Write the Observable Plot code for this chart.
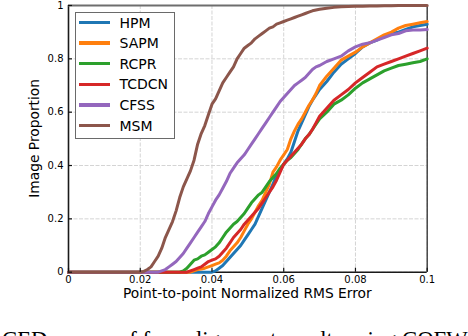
<!DOCTYPE html>
<html><head><meta charset="utf-8">
<script src="https://cdn.jsdelivr.net/npm/d3@7"></script>
<script src="https://cdn.jsdelivr.net/npm/@observablehq/plot@0.6"></script>
<style>
html,body{margin:0;padding:0;background:#fff;overflow:hidden;width:468px;height:336px}
#wrap{position:relative;width:468px;height:336px;overflow:hidden}
#legend{position:absolute;left:75px;top:12px;width:100px;height:127px;box-sizing:border-box;border:1.5px solid #6a6a6a;background:#fff;font-family:"DejaVu Sans";font-size:14px}
.sw{position:absolute;left:2.5px;width:31px;height:3.5px}
.lb{position:absolute;left:43.5px;line-height:16px;color:#000;white-space:nowrap}
#caption{position:absolute;left:2px;top:327.8px;font-family:"Liberation Serif";font-size:22.7px;line-height:23px;white-space:nowrap;color:#000}
</style></head>
<body><div id="wrap"></div>
<script>
const seriesNames = ["HPM", "SAPM", "RCPR", "TCDCN", "CFSS", "MSM"];
const seriesColors = ["#1f77b4", "#ff7f0e", "#2ca02c", "#d62728", "#9467bd", "#8c564b"];
const xGrid = [0,
  0.020,0.021,0.022,0.023,0.024,0.025,0.026,0.027,0.028,0.029,
  0.030,0.031,0.032,0.033,0.034,0.035,0.036,0.037,0.038,0.039,
  0.040,0.041,0.042,0.043,0.044,0.045,0.046,0.047,0.048,0.049,
  0.050,0.051,0.052,0.053,0.054,0.055,0.056,0.057,0.058,0.059,
  0.060,0.061,0.062,0.063,0.064,0.065,0.066,0.067,0.068,0.069,
  0.070,
  0.072,0.074,0.076,0.078,0.080,0.082,0.084,0.086,0.088,0.090,0.092,0.094,0.096,0.098,0.100];
const hpm = [0,
  0,0,0,0,0,0,0,0,0,0,
  0,0,0,0,0,0,0,0,0,0,
  0,0.005,0.015,0.025,0.04,0.055,0.07,0.085,0.10,0.12,
  0.14,0.16,0.18,0.21,0.24,0.27,0.30,0.33,0.365,0.385,
  0.405,0.425,0.45,0.49,0.53,0.56,0.59,0.62,0.645,0.665,
  0.685,
  0.715,0.75,0.78,0.80,0.82,0.845,0.86,0.87,0.885,0.895,0.90,0.91,0.92,0.925,0.93];
const sapm = [0,
  0,0,0,0,0,0,0,0,0,0,
  0,0,0,0,0,0.005,0.01,0.012,0.015,0.02,
  0.025,0.03,0.035,0.045,0.06,0.08,0.095,0.11,0.13,0.155,
  0.18,0.20,0.225,0.25,0.27,0.30,0.33,0.375,0.395,0.42,
  0.44,0.46,0.50,0.53,0.555,0.575,0.60,0.625,0.645,0.67,
  0.70,
  0.735,0.765,0.795,0.81,0.825,0.845,0.86,0.875,0.89,0.90,0.915,0.925,0.93,0.935,0.94];
const rcpr = [0,
  0,0,0,0,0,0,0,0,0,0,
  0,0,0.005,0.015,0.03,0.045,0.05,0.06,0.065,0.075,
  0.085,0.095,0.11,0.13,0.15,0.165,0.18,0.19,0.205,0.22,
  0.24,0.26,0.275,0.29,0.30,0.32,0.34,0.355,0.37,0.39,
  0.405,0.42,0.43,0.445,0.46,0.48,0.50,0.515,0.535,0.555,
  0.575,
  0.60,0.63,0.645,0.665,0.69,0.71,0.725,0.74,0.755,0.765,0.775,0.78,0.785,0.79,0.80];
const tcdcn = [0,
  0,0,0,0,0,0,0,0,0,0,
  0,0,0,0,0.005,0.01,0.015,0.02,0.03,0.04,
  0.045,0.05,0.06,0.075,0.09,0.11,0.13,0.145,0.16,0.18,
  0.195,0.21,0.225,0.24,0.26,0.28,0.30,0.32,0.345,0.375,
  0.405,0.42,0.435,0.45,0.465,0.48,0.50,0.515,0.535,0.56,
  0.585,
  0.615,0.645,0.665,0.685,0.71,0.73,0.75,0.77,0.78,0.79,0.80,0.81,0.82,0.83,0.84];
const cfss = [0,
  0,0,0,0,0,0,0.005,0.01,0.02,0.03,
  0.04,0.055,0.07,0.09,0.11,0.13,0.15,0.17,0.19,0.22,
  0.245,0.27,0.29,0.315,0.34,0.37,0.39,0.41,0.425,0.44,
  0.46,0.48,0.50,0.52,0.54,0.56,0.58,0.60,0.62,0.64,
  0.655,0.67,0.685,0.70,0.71,0.72,0.73,0.745,0.76,0.77,
  0.775,
  0.79,0.80,0.81,0.83,0.845,0.855,0.86,0.87,0.88,0.89,0.895,0.905,0.908,0.908,0.91];
const msm = [0,
  0,0.003,0.01,0.02,0.04,0.06,0.09,0.13,0.16,0.19,
  0.23,0.28,0.32,0.35,0.38,0.42,0.48,0.52,0.55,0.59,
  0.63,0.65,0.68,0.71,0.73,0.75,0.77,0.80,0.82,0.84,
  0.85,0.86,0.875,0.885,0.895,0.905,0.915,0.92,0.93,0.935,
  0.94,0.945,0.95,0.955,0.96,0.965,0.97,0.975,0.98,0.983,
  0.986,
  0.99,0.993,0.995,0.996,0.997,0.997,0.998,0.998,0.999,0.999,1,1,1,1,1];
const xTicks = [0, 0.02, 0.04, 0.06, 0.08, 0.1];
const yTicks = [0, 0.2, 0.4, 0.6, 0.8, 1];
const xLabel = "Point-to-point Normalized RMS Error";
const yLabel = "Image Proportion";
const captionText = "CED curves of face alignment results using COFW";

const seriesValues = [hpm, sapm, rcpr, tcdcn, cfss, msm];
const rows = [];
seriesNames.forEach((name, k) => {
  xGrid.forEach((x, i) => rows.push({x, y: seriesValues[k][i], s: name}));
});

const W = 468, H = 336, mL = 68, mR = 41.3, mT = 5, mB = 64.3;
const plotW = W - mL - mR, plotH = H - mT - mB;

const chart = Plot.plot({
  width: W, height: H,
  marginLeft: mL, marginRight: mR, marginTop: mT, marginBottom: mB,
  style: {fontFamily: "DejaVu Sans", fontSize: "10px", background: "#fff", color: "#000", overflow: "visible"},
  x: {domain: [0, 0.1]},
  y: {domain: [0, 1]},
  color: {domain: seriesNames, range: seriesColors},
  marks: [
    Plot.gridX(xTicks, {stroke: "#d4d4d4", strokeOpacity: 1, strokeWidth: 1, strokeDasharray: "4,1.5"}),
    Plot.gridY(yTicks, {stroke: "#d4d4d4", strokeOpacity: 1, strokeWidth: 1, strokeDasharray: "4,1.5"}),
    Plot.ruleX([0], {stroke: "#1a1a1a", strokeWidth: 1.6}),
    Plot.ruleX([0.1], {stroke: "#3a3a3a", strokeWidth: 1.4}),
    Plot.ruleY([0], {stroke: "#1a1a1a", strokeWidth: 1.6}),
    Plot.ruleY([1], {stroke: "#6e6e6e", strokeWidth: 2.2}),
    Plot.line(rows, {x: "x", y: "y", z: "s", stroke: "s", strokeWidth: 3, strokeLinejoin: "round"}),
    Plot.tickX(xTicks, {x: d => d, insetTop: plotH - 4, stroke: "#111", strokeWidth: 1.2}),
    Plot.tickY(yTicks, {y: d => d, insetRight: plotW - 4, stroke: "#111", strokeWidth: 1.2}),
    Plot.axisX(xTicks, {tickSize: 0, tickPadding: 3.5, tickFormat: d => String(d), label: null}),
    Plot.axisY(yTicks, {tickSize: 0, tickPadding: 5, tickFormat: d => String(d), label: null})
  ]
});

const svg = d3.select(chart);
svg.append("text")
  .attr("x", mL + plotW / 2).attr("y", 298)
  .attr("text-anchor", "middle")
  .attr("font-family", "DejaVu Sans").attr("font-size", "13.8px").attr("fill", "#000")
  .text(xLabel);
svg.append("text")
  .attr("transform", `translate(38.5,${mT + plotH / 2}) rotate(-90)`)
  .attr("text-anchor", "middle")
  .attr("font-family", "DejaVu Sans").attr("font-size", "13.8px").attr("fill", "#000")
  .text(yLabel);

const wrap = document.getElementById("wrap");
wrap.appendChild(chart);

const legend = document.createElement("div");
legend.id = "legend";
seriesNames.forEach((name, i) => {
  const yc = 23 + i * 20.6 - 13.5;
  const sw = document.createElement("div");
  sw.className = "sw";
  sw.style.top = (yc - 1.75) + "px";
  sw.style.background = seriesColors[i];
  legend.appendChild(sw);
  const lb = document.createElement("div");
  lb.className = "lb";
  lb.style.top = (yc - 8) + "px";
  lb.textContent = name;
  legend.appendChild(lb);
});
wrap.appendChild(legend);

const cap = document.createElement("div");
cap.id = "caption";
cap.textContent = captionText;
wrap.appendChild(cap);
</script>
</body></html>
